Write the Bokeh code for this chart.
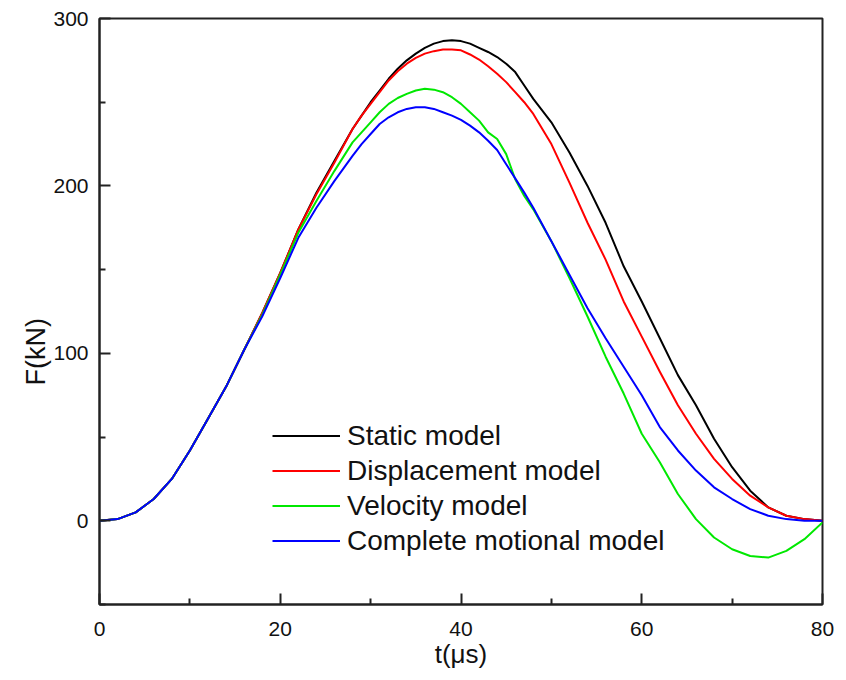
from bokeh.plotting import figure
from bokeh.models import Range1d, FixedTicker, Legend, LegendItem, Title
from bokeh.embed import file_html
from bokeh.resources import INLINE

t_us = [0, 2, 4, 6, 8, 10, 12, 14, 16, 18,
        20, 22, 24, 26,
        28, 29, 30, 31, 32, 33, 34, 35, 36, 37, 38,
        39, 40, 41, 42, 43, 44, 45, 46, 47, 48,
        50, 52, 54, 56, 58,
        60, 62, 64, 66, 68, 70, 72, 74, 76, 78, 80]

static_model = [0, 1, 5, 13, 25, 42, 61, 80, 102, 124,
                148, 174, 196, 215,
                234, 242, 250, 257, 264, 270, 275, 279, 282.5, 285, 286.5,
                287, 286.5, 285, 282.5, 280, 277, 273, 268, 260, 252,
                238, 220, 200, 178, 152,
                131, 109, 87, 69, 49, 32, 18, 8, 3, 1, 0]

displacement_model = [0, 1, 5, 13, 25, 42, 61, 80, 102, 124,
                      148, 174, 195, 214,
                      234, 242, 249, 256, 263, 268.5, 273, 276.5, 279, 280.5, 281.5,
                      281.5, 281, 278.5, 275.5, 271.5, 267, 262, 256, 250, 243,
                      225, 202, 178, 156, 131,
                      110, 89, 69, 52, 37, 25, 15, 8, 3, 1, 0]

velocity_model = [0, 1, 5, 13, 25, 42, 61, 80, 102, 123,
                  147, 172, 191, 209,
                  226, 232, 238, 244, 249, 252.5, 255, 257, 258, 257.5, 256,
                  253, 249, 244, 239, 232, 228, 219, 204, 194, 186,
                  167, 145, 122, 98, 76,
                  52, 35, 16, 1, -10, -17, -21, -22, -18, -11, -1]

complete_model = [0, 1, 5, 13, 25, 42, 61, 80, 102, 122,
                  145, 169, 187, 203,
                  218, 225, 231, 237, 241, 244, 246, 247, 247, 246, 244,
                  242, 239.5, 236, 232, 227, 221.5, 213, 204.5, 196, 187,
                  167, 147, 127, 109, 92,
                  75, 56, 42, 30, 20, 13, 7, 3, 1, 0, 0]

series_names = ["Static model", "Displacement model", "Velocity model", "Complete motional model"]
series_colors = ["#000000", "#ff0000", "#00e800", "#0000ff"]

x_ticks = [0, 20, 40, 60, 80]
x_minor = [10, 30, 50, 70]
y_ticks = [0, 100, 200, 300]
y_minor = [-50, 50, 150, 250]

FONT = "Liberation Sans"

p = figure(width=846, height=680, output_backend="svg", toolbar_location=None,
           x_range=Range1d(0, 80), y_range=Range1d(-50, 300),
           min_border_left=99, min_border_right=24, min_border_top=18, min_border_bottom=76)
p.background_fill_color = "white"
p.border_fill_color = "white"
p.grid.visible = False
p.outline_line_color = "#222222"
p.outline_line_width = 2

renderers = []
for ys, c in zip([static_model, displacement_model, velocity_model, complete_model], series_colors):
    r = p.line(t_us, ys, line_color=c, line_width=2, line_join="round")
    renderers.append(r)

for ax in (p.xaxis[0], p.yaxis[0]):
    ax.axis_line_color = "#222222"
    ax.axis_line_width = 2
    ax.major_tick_line_color = "#222222"
    ax.major_tick_line_width = 2
    ax.minor_tick_line_color = "#222222"
    ax.minor_tick_line_width = 2
    ax.major_tick_in = 11
    ax.major_tick_out = 0
    ax.minor_tick_in = 6
    ax.minor_tick_out = 0
    ax.major_label_text_font = FONT
    ax.major_label_text_font_size = "21px"
    ax.major_label_text_color = "#111111"
    ax.axis_label_text_font = FONT
    ax.axis_label_text_font_style = "normal"
    ax.axis_label_text_font_size = "26px"
    ax.axis_label_text_color = "#111111"

p.xaxis[0].ticker = FixedTicker(ticks=x_ticks, minor_ticks=x_minor)
p.yaxis[0].ticker = FixedTicker(ticks=y_ticks, minor_ticks=y_minor)
p.xaxis[0].axis_label = "t(μs)"
p.xaxis[0].major_label_standoff = 17
p.xaxis[0].axis_label_standoff = 0
p.yaxis[0].major_label_standoff = 11

ytitle = Title(text="F(kN)", align="left", offset=219, standoff=0,
               text_font=FONT, text_font_size="27px", text_font_style="normal",
               text_color="#111111")
p.add_layout(ytitle, "left")

legend = Legend(items=[LegendItem(label=n, renderers=[r]) for n, r in zip(series_names, renderers)],
                location=(173, 46))
legend.border_line_alpha = 0
legend.background_fill_alpha = 0
legend.padding = 0
legend.margin = 0
legend.spacing = 0
legend.glyph_width = 68
legend.glyph_height = 35
legend.label_height = 35
legend.label_standoff = 7
legend.label_text_font = FONT
legend.label_text_font_size = "28px"
legend.label_text_color = "#111111"
p.add_layout(legend)

open("out.html", "w").write(file_html(p, INLINE))
